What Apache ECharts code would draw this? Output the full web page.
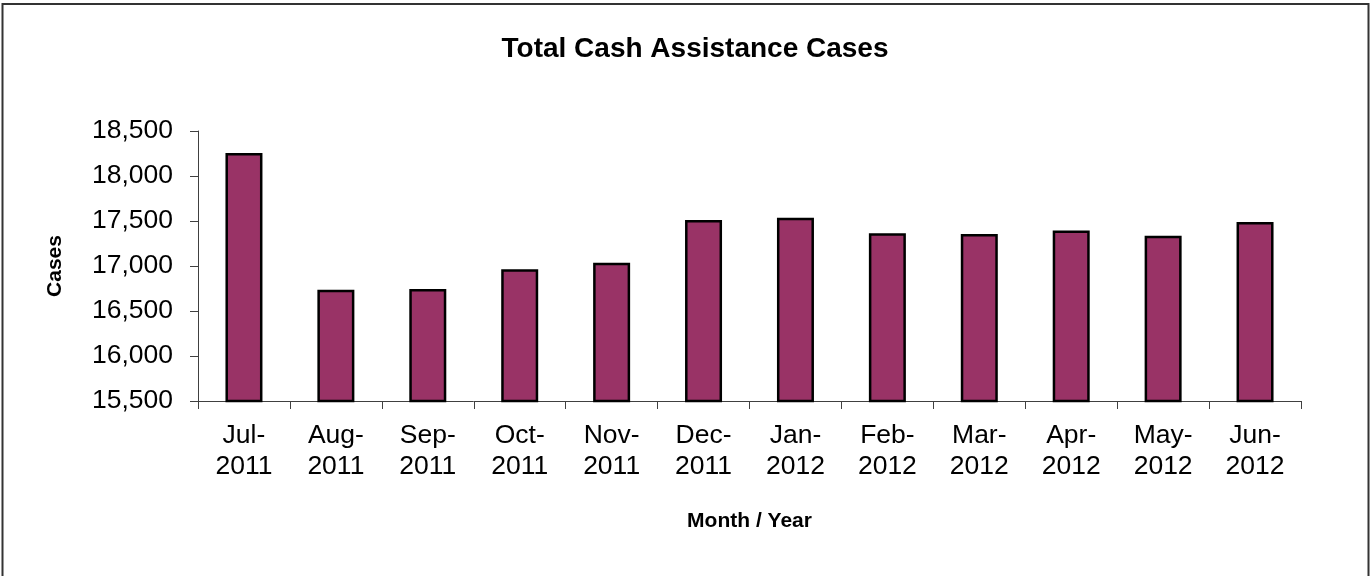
<!DOCTYPE html>
<html>
<head>
<meta charset="utf-8">
<script src="https://cdn.jsdelivr.net/npm/echarts@6/dist/echarts.min.js"></script>
<style>
  html, body { margin: 0; padding: 0; background: #fff; }
  #chart { width: 1371px; height: 576px; }
</style>
</head>
<body>
<div id="chart"></div>
<script>
// Monthly categories (two-line labels: month / year)
const months = ['Jul-\n2011', 'Aug-\n2011', 'Sep-\n2011', 'Oct-\n2011', 'Nov-\n2011', 'Dec-\n2011',
                'Jan-\n2012', 'Feb-\n2012', 'Mar-\n2012', 'Apr-\n2012', 'May-\n2012', 'Jun-\n2012'];
// Total cash assistance cases per month
const cases = [18255, 16735, 16745, 16965, 17035, 17510, 17535, 17365, 17355, 17395, 17335, 17490];
// Value axis range and step
const yMin = 15500;
const yMax = 18500;
const yStep = 500;

const font = '"Liberation Sans", Arial, sans-serif';
const chart = echarts.init(document.getElementById('chart'), null, { renderer: 'canvas' });

chart.setOption({
  animation: false,
  backgroundColor: '#fff',
  textStyle: { fontFamily: font },
  title: {
    text: 'Total Cash Assistance Cases',
    left: 690, top: 30, textAlign: 'center',
    textStyle: { fontFamily: font, fontSize: 28, fontWeight: 'bold', color: '#000' }
  },
  grid: { left: 198, top: 131, width: 1103, height: 270, containLabel: false },
  xAxis: {
    type: 'category',
    data: months,
    name: 'Month / Year',
    nameLocation: 'middle',
    nameGap: 110,
    nameTextStyle: { fontFamily: font, fontSize: 21, fontWeight: 'bold', color: '#000' },
    axisLine: { lineStyle: { color: '#404040', width: 1 } },
    axisTick: { show: true, length: 8, alignWithLabel: false, lineStyle: { color: '#404040' } },
    axisLabel: { fontFamily: font, fontSize: 26.5, color: '#000', lineHeight: 31, margin: 19, interval: 0 }
  },
  yAxis: {
    type: 'value',
    min: yMin, max: yMax, interval: yStep,
    name: 'Cases',
    nameLocation: 'middle',
    nameGap: 132,
    nameRotate: 90,
    nameTextStyle: { fontFamily: font, fontSize: 21, fontWeight: 'bold', color: '#000' },
    axisLine: { show: true, lineStyle: { color: '#404040', width: 1 } },
    axisTick: { show: true, length: 8, lineStyle: { color: '#404040' } },
    splitLine: { show: false },
    axisLabel: {
      fontFamily: font, fontSize: 26.5, color: '#000', margin: 25,
      formatter: v => v.toLocaleString('en-US')
    }
  },
  series: [{
    type: 'bar',
    data: cases,
    barWidth: 37,
    itemStyle: { color: '#993366', borderColor: '#000', borderWidth: 2.5 }
  }],
  graphic: [{
    type: 'rect',
    shape: { x: 2.5, y: 4, width: 1366, height: 620 },
    style: { fill: 'none', stroke: '#333', lineWidth: 2 },
    silent: true
  }]
});
</script>
</body>
</html>
